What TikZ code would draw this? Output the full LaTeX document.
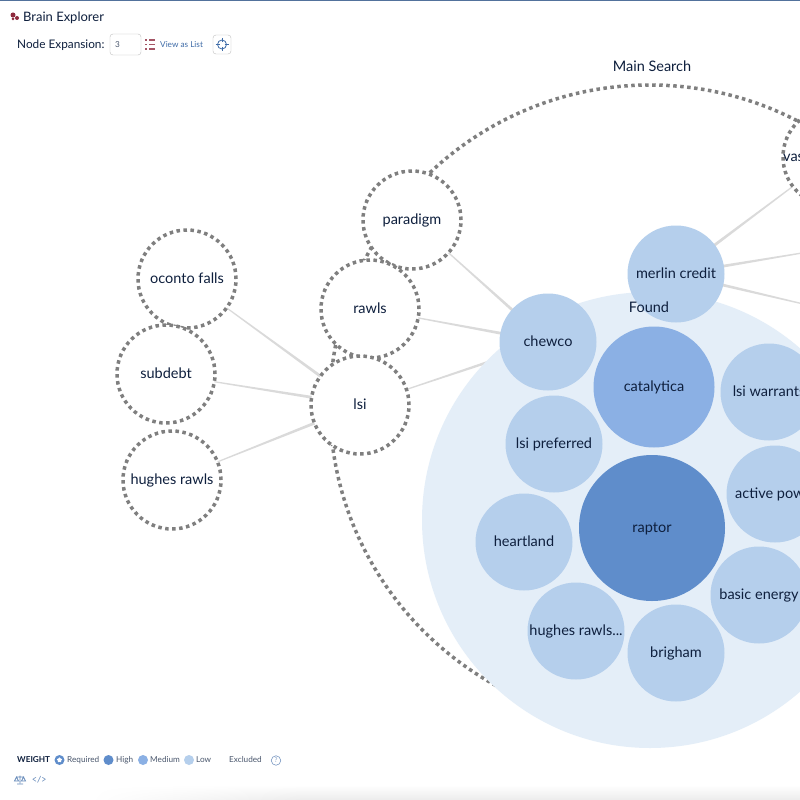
\documentclass[tikz,border=0pt]{standalone}
\usepackage{fontspec}
\setmainfont{Lato}
\usetikzlibrary{calc,
    positioning,
    shapes.geometric}
\definecolor{founddisc}{HTML}{E4EEF8}
\definecolor{lowblue}{HTML}{B5CFEC}
\definecolor{medblue}{HTML}{8BB0E4}
\definecolor{highblue}{HTML}{5F8DCB}
\definecolor{inktext}{HTML}{0E1F3D}
\definecolor{dotgray}{HTML}{7F7F7F}
\definecolor{edgegray}{HTML}{DADADA}
\definecolor{linkblue}{HTML}{3F6CA8}
\definecolor{logored}{HTML}{8E2A3E}
\tikzset{
    bubbletext/.style={text=inktext,font=\fontsize{14.5}{17}\selectfont,text height=11.7pt,text depth=2pt},
    dotbubble/.style={circle,draw=dotgray,line width=3.5pt,dash pattern=on 3.5pt off 3.5pt,
        fill=white,minimum size=98pt,inner sep=0pt,bubbletext},
    lowbubble/.style={circle,fill=lowblue,minimum size=97pt,inner sep=0pt,bubbletext},
    uitext/.style={text=inktext,font=\fontsize{11.8}{14}\selectfont,inner sep=0pt},
    smalltext/.style={text=inktext!75,font=\fontsize{8.2}{10}\selectfont,inner sep=0pt},
    legenddot/.style={circle,minimum size=10pt,inner sep=0pt},
    uibox/.style={draw=black!25,rounded corners=3pt,fill=white,inner sep=0pt}
}
\newcommand{\taperedge}[2]{%
    \fill[edgegray] ($(#1.center)!.2pt!90:(#2.center)$) -- ($(#2.center)!1.8pt!-90:(#1.center)$)
        -- ($(#2.center)!1.8pt!90:(#1.center)$) -- ($(#1.center)!.2pt!-90:(#2.center)$) -- cycle;}
\begin{document}
\begin{tikzpicture}[x=1pt,y=-1pt]
    \useasboundingbox (0,0) rectangle (800,800);
    \clip (0,0) rectangle (800,800);
    \fill[white] (0,0) rectangle (800,800);
    \foreach \y in {785,...,799} {
        \pgfmathsetmacro{\shadeval}{(\y-785)*.5}
        \shade[left color=white,right color=black!\shadeval] (90,\y) rectangle (300,\y+1.2);
        \fill[black!\shadeval] (300,\y) rectangle (800,\y+1.2);
    }
    \fill[linkblue!70!gray] (0,0) rectangle (800,1.2);

    \node[circle,draw=dotgray,line width=3.5pt,dash pattern=on 3.5pt off 3.5pt,minimum size=640pt,inner sep=0pt] (mainsearch) at (650,405) {};
    \node[bubbletext] (mainlabel) at (652,67) {Main Search};

    \coordinate (offupper) at (850,245);
    \coordinate (offlower) at (850,315);
    \node[circle,minimum size=98pt] (vasnode) at (832,157) {};
    \node[circle,minimum size=97pt] (paradigmc) at (412,220) {};
    \node[circle,minimum size=97pt] (rawlsc) at (370,309) {};
    \node[circle,minimum size=97pt] (lsic) at (360,405) {};
    \node[circle,minimum size=97pt] (ocontoc) at (187,279) {};
    \node[circle,minimum size=97pt] (subdebtc) at (166,374) {};
    \node[circle,minimum size=97pt] (hughesc) at (172,480) {};
    \node[circle,minimum size=97pt] (chewcoc) at (548,342) {};
    \node[circle,minimum size=97pt] (merlinc) at (676,274) {};

    \taperedge{ocontoc}{lsic}
    \taperedge{subdebtc}{lsic}
    \taperedge{hughesc}{lsic}
    \taperedge{paradigmc}{chewcoc}
    \taperedge{rawlsc}{chewcoc}
    \taperedge{lsic}{chewcoc}
    \taperedge{vasnode}{merlinc}
    \taperedge{offupper}{merlinc}
    \taperedge{offlower}{merlinc}

    \node[dotbubble] (paradigm) at (412,220) {paradigm};
    \node[dotbubble] (rawls) at (370,309) {rawls};
    \node[dotbubble] (lsi) at (360,405) {lsi};
    \node[dotbubble] (oconto) at (187,279) {oconto falls};
    \node[dotbubble] (subdebt) at (166,374) {subdebt};
    \node[dotbubble] (hughes) at (172,480) {hughes rawls};
    \node[dotbubble] (vas) at (832,157) {};
    \node[bubbletext,anchor=west,inner sep=0pt] (vaslabel) at (783,157) {vas};

    \node[circle,fill=founddisc,minimum size=456pt,inner sep=0pt] (found) at (650,520) {};
    \node[lowbubble] (merlin) at (676,274) {merlin credit};
    \node[bubbletext] (foundlabel) at (649,308) {Found};
    \node[lowbubble] (chewco) at (548,342) {chewco};
    \node[circle,fill=medblue,minimum size=121pt,inner sep=0pt,bubbletext] (catalytica) at (654,387) {catalytica};
    \node[lowbubble] (warrants) at (769,392) {lsi warrants};
    \node[lowbubble] (preferred) at (554,444) {lsi preferred};
    \node[lowbubble] (activepow) at (775,494) {};
    \node[bubbletext,anchor=west,inner sep=0pt] (activelabel) at (735,494) {active pow};
    \node[circle,fill=highblue,minimum size=146pt,inner sep=0pt,bubbletext] (raptor) at (652,528) {raptor};
    \node[lowbubble] (heartland) at (524,542) {heartland};
    \node[lowbubble] (basic) at (759,595) {basic energy};
    \node[lowbubble] (hughesdots) at (576,631) {hughes rawls...};
    \node[lowbubble] (brigham) at (676,653) {brigham};

    \node[circle,fill=logored,minimum size=5pt,inner sep=0pt] (logoa) at (13,15) {};
    \node[circle,fill=logored,minimum size=4pt,inner sep=0pt] (logob) at (17,18) {};
    \node[circle,fill=logored,minimum size=3pt,inner sep=0pt] (logoc) at (13,19) {};
    \node[uitext,anchor=west,font=\fontsize{13}{15}\selectfont] (title) at (23,17.5) {Brain Explorer};
    \node[uitext,anchor=west] (expansion) at (17,45) {Node Expansion:};
    \node[uibox,minimum width=31pt,minimum height=21pt] (inputbox) at (125.5,44.5) {};
    \node[smalltext,anchor=west] (inputval) at (115,44.5) {3};
    \foreach \y in {40,44.5,49} {
        \fill[logored!80] (145,\y-.6) rectangle (147,\y+.6);
        \fill[logored!80] (149,\y-.6) rectangle (155,\y+.6);
    }
    \node[smalltext,anchor=west,text=linkblue] (viewlist) at (160,44.5) {View as List};
    \node[uibox,minimum width=18pt,minimum height=19pt] (targetbtn) at (222,44.5) {};
    \draw[linkblue,line width=.8pt] (targetbtn.center) circle (4.5pt);
    \draw[linkblue,line width=.8pt] (222,38) -- (222,42) (222,47) -- (222,51) (215.5,44.5) -- (219.5,44.5) (224.5,44.5) -- (228.5,44.5);

    \node[smalltext,anchor=west,font=\fontsize{8.2}{10}\bfseries\selectfont,text=inktext] (weight) at (17,760) {WEIGHT};
    \node[legenddot,fill=highblue] (reqdot) at (59.5,760) {};
    \node[star,fill=white,minimum size=5.5pt,inner sep=0pt] (reqstar) at (59.5,760) {};
    \node[smalltext,anchor=west] (reqlabel) at (67,760) {Required};
    \node[legenddot,fill=highblue] (highdot) at (108.5,760) {};
    \node[smalltext,anchor=west] (highlabel) at (116,760) {High};
    \node[legenddot,fill=medblue] (meddot) at (143,760) {};
    \node[smalltext,anchor=west] (medlabel) at (150,760) {Medium};
    \node[legenddot,fill=lowblue] (lowdot) at (189,760) {};
    \node[smalltext,anchor=west] (lowlabel) at (196,760) {Low};
    \node[smalltext,anchor=west] (exclabel) at (229,760) {Excluded};
    \node[circle,draw=linkblue!70,line width=.6pt,minimum size=9.5pt,inner sep=0pt,text=linkblue!70,font=\fontsize{6.5}{8}\selectfont] (helpdot) at (276,760.5) {?};

    \draw[linkblue!80,line width=.7pt] (20,775.5) -- (20,783) (16,777) -- (24,777) (14.5,781) -- (16.5,777) -- (18.5,781) -- cycle (21.5,781) -- (23.5,777) -- (25.5,781) -- cycle (17,784) -- (23,784);
    \node[smalltext,anchor=west,text=linkblue!80,font=\fontsize{9}{10}\ttfamily\selectfont] (codeicon) at (32,780) {</>};
\end{tikzpicture}
\end{document}
